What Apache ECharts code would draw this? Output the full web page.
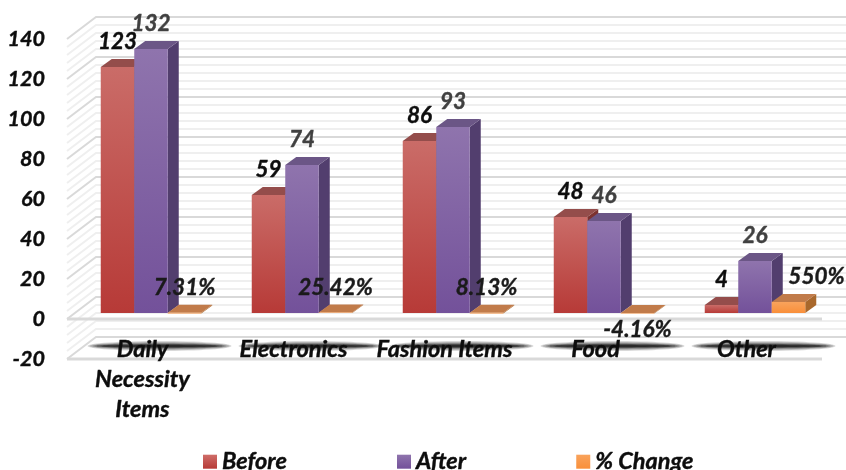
<!DOCTYPE html>
<html>
<head>
<meta charset="utf-8">
<style>html,body{margin:0;padding:0;background:#fff}#c{width:846px;height:470px}</style>
<script src="https://cdn.jsdelivr.net/npm/echarts@6/dist/echarts.min.js"></script>
</head>
<body>
<div id="c"></div>
<script>
const categories = ['Daily\nNecessity\nItems', 'Electronics', 'Fashion Items', 'Food', 'Other'];
const before = [123, 59, 86, 48, 4];
const after = [132, 74, 93, 46, 26];
const pctChange = [0.0731, 0.2542, 0.0813, -0.0416, 5.5];
const pctLabels = ['7.31%', '25.42%', '8.13%', '-4.16%', '550%'];
const wallTicks = [-20,-16,-12,-8,-4,0,4,8,12,16,20,24,28,32,36,40,44,48,52,56,60,64,68,72,76,80,84,88,92,96,100,104,108,112,116,120,124,128,132,136,140];

const FONT = 'Lato';
const WALL_DX = 29, WALL_DY = -22;     // depth of the chart box
const BAR_DX = 11, BAR_DY = -8;        // depth of a bar
const BAR_W = 33.5, BAR_SHIFT = 8.5, BAR_LIFT = 6;

const chart = echarts.init(document.getElementById('c'), null, {renderer: 'canvas', width: 846, height: 470});
const grad = (a, b) => new echarts.graphic.LinearGradient(0, 0, 0, 1, [{offset: 0, color: a}, {offset: 1, color: b}]);

const palettes = [
  {front: grad('#ca6c68', '#b73a37'), top: '#944d4b', side: '#7d3230'},
  {front: grad('#8f74ad', '#73519a'), top: '#6b5686', side: '#523e6e'},
  {front: grad('#f9a35c', '#f98f3a'), top: '#c17b4a', side: '#a9682c'}
];

function barGeom(api, slot) {
  const idx = api.value(0), v = api.value(1);
  const top = api.coord([idx, v]), base = api.coord([idx, 0]);
  const x = top[0] + BAR_SHIFT + (slot - 1) * BAR_W - BAR_W / 2;
  return {x, y: Math.min(top[1], base[1]) - BAR_LIFT, h: Math.max(0.6, Math.abs(top[1] - base[1]))};
}

function barSeries(name, values, slot) {
  const p = palettes[slot];
  return {
    name, type: 'custom', coordinateSystem: 'cartesian2d', z: 3 + slot,
    data: values.map((v, i) => [i, v]),
    encode: {x: 0, y: 1},
    itemStyle: {color: slot === 0 ? '#c0504d' : slot === 1 ? '#8064a2' : '#f79646'},
    renderItem(params, api) {
      const g = barGeom(api, slot);
      const x = g.x, y = g.y, h = g.h, w = BAR_W;
      return {type: 'group', children: [
        {type: 'polygon', shape: {points: [[x + w, y], [x + w + BAR_DX, y + BAR_DY], [x + w + BAR_DX, y + h + BAR_DY], [x + w, y + h]]}, style: {fill: p.side}},
        {type: 'polygon', shape: {points: [[x, y], [x + w, y], [x + w + BAR_DX, y + BAR_DY], [x + BAR_DX, y + BAR_DY]]}, style: {fill: p.top}},
        {type: 'rect', shape: {x, y, width: w, height: h}, style: {fill: p.front}}
      ]};
    }
  };
}

function labelSeries(values, slot, color, texts) {
  return {
    type: 'custom', coordinateSystem: 'cartesian2d', z: 8, silent: true,
    data: values.map((v, i) => [i, v]),
    encode: {x: 0, y: 1},
    renderItem(params, api) {
      const g = barGeom(api, slot);
      const i = api.value(0), v = api.value(1);
      let dx = BAR_W / 2, cy = g.y - 25;
      if (v < 0) cy = g.y + 17;
      if (slot === 2 && v > 1) dx += 28;
      return {type: 'text', style: {
        x: g.x + dx, y: cy, text: texts ? texts[i] : String(v), fill: color,
        stroke: color, lineWidth: 0.4,
        font: 'italic bold 22.5px ' + FONT, align: 'center', verticalAlign: 'middle'
      }};
    }
  };
}

const wallSeries = {
  type: 'custom', coordinateSystem: 'cartesian2d', z: 1, silent: true,
  data: wallTicks.map(v => [0, v]),
  encode: {x: 0, y: 1},
  renderItem(params, api) {
    const v = api.value(1);
    const major = v % 20 === 0;
    const cs = params.coordSys;
    const y = api.coord([0, v])[1];
    const x0 = cs.x, x1 = x0 + WALL_DX, x2 = 860;
    return {type: 'polyline', z2: major ? 2 : 1,
      shape: {points: [[x0, y], [x1, y + WALL_DY], [x2, y + WALL_DY]]},
      style: {fill: null, stroke: major ? '#d9d9d9' : '#efefef', lineWidth: 2}};
  }
};

const frontFloor = {
  type: 'custom', coordinateSystem: 'cartesian2d', z: 2, silent: true,
  data: [[0, 0], [0, -20]],
  encode: {x: 0, y: 1},
  renderItem(params, api) {
    const cs = params.coordSys;
    const y = api.coord([0, api.value(1)])[1];
    return {type: 'line', shape: {x1: cs.x, y1: y, x2: cs.x + cs.width, y2: y},
      style: {stroke: '#d9d9d9', lineWidth: 3}};
  }
};

const labelShadows = {
  type: 'custom', coordinateSystem: 'cartesian2d', z: 2, silent: true,
  data: categories.map((c, i) => [i, -14]),
  encode: {x: 0, y: 1},
  renderItem(params, api) {
    const c = api.coord([api.value(0), api.value(1)]);
    const layer = (rx, ry, alpha) => ({
      type: 'ellipse', shape: {cx: c[0] + 17, cy: c[1] - 1, rx, ry},
      style: {fill: 'rgba(20,20,20,' + alpha + ')', stroke: 'rgba(0,0,0,0)', lineWidth: 0}
    });
    return {type: 'group', children: [
      layer(72, 5, 0.16), layer(70, 4, 0.2), layer(67, 3, 0.28), layer(63, 2, 0.5), layer(58, 1.1, 0.6)
    ]};
  }
};

const textBase = {
  color: '#0d0d0d', fontFamily: FONT, fontStyle: 'italic', fontWeight: 'bold',
  textBorderColor: '#0d0d0d', textBorderWidth: 0.4
};

chart.setOption({
  animation: false,
  backgroundColor: '#fff',
  grid: {left: 67, top: 39, width: 755, height: 320, containLabel: false},
  xAxis: {
    type: 'category', data: categories, position: 'bottom', z: 10,
    axisLine: {show: false, onZero: false}, axisTick: {show: false},
    axisLabel: Object.assign({}, textBase, {
      interval: 0, margin: -25, fontSize: 23.5, lineHeight: 30,
      verticalAlign: 'top', hideOverlap: false
    })
  },
  yAxis: {
    type: 'value', min: -20, max: 140, interval: 20,
    axisLine: {show: false}, axisTick: {show: false}, splitLine: {show: false},
    axisLabel: Object.assign({}, textBase, {margin: 22, fontSize: 21.5, padding: [6, 0, 0, 0]})
  },
  legend: {
    left: 198, top: 445, itemWidth: 14, itemHeight: 14, itemGap: 110, icon: 'rect',
    selectedMode: false,
    textStyle: Object.assign({}, textBase, {fontSize: 23.5}),
    itemStyle: {borderWidth: 0},
    data: [
      {name: 'Before', itemStyle: {color: grad('#cf6d69', '#b73a37')}},
      {name: 'After', itemStyle: {color: grad('#8f74ad', '#73519a')}},
      {name: '% Change', itemStyle: {color: grad('#f9a35c', '#f98f3a')}}
    ]
  },
  series: [
    wallSeries, frontFloor, labelShadows,
    barSeries('Before', before, 0),
    barSeries('After', after, 1),
    barSeries('% Change', pctChange, 2),
    labelSeries(before, 0, '#0d0d0d'),
    labelSeries(after, 1, '#404040'),
    labelSeries(pctChange, 2, '#1a1a1a', pctLabels)
  ]
});
</script>
</body>
</html>
